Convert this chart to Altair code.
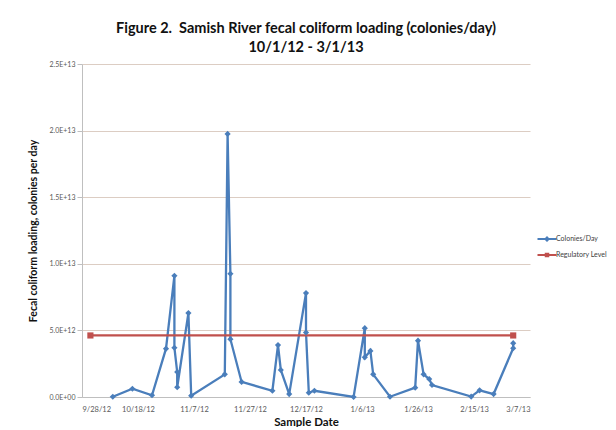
import altair as alt
import pandas as pd

# Colonies/Day series (values in units of 1E12 colonies/day)
sample_dates = ["2012-10-09", "2012-10-16", "2012-10-23", "2012-10-28", "2012-10-31",
                "2012-10-31", "2012-11-01", "2012-11-01", "2012-11-05", "2012-11-06",
                "2012-11-18", "2012-11-19", "2012-11-20", "2012-11-20", "2012-11-24",
                "2012-12-05", "2012-12-07", "2012-12-08", "2012-12-11", "2012-12-17",
                "2012-12-17", "2012-12-18", "2012-12-20", "2013-01-03", "2013-01-07",
                "2013-01-07", "2013-01-09", "2013-01-10", "2013-01-16", "2013-01-25",
                "2013-01-26", "2013-01-28", "2013-01-30", "2013-01-31", "2013-02-14",
                "2013-02-17", "2013-02-22", "2013-03-01", "2013-03-01"]
colonies_e12 = [0.02, 0.62, 0.13, 3.63, 9.1, 3.7, 1.88, 0.73, 6.3, 0.1,
                1.7, 19.75, 9.25, 4.34, 1.13, 0.47, 3.9, 2.03, 0.22, 7.8,
                4.84, 0.32, 0.47, 0.0, 5.17, 2.98, 3.46, 1.7, 0.02, 0.7,
                4.23, 1.7, 1.35, 0.9, 0.03, 0.5, 0.22, 3.66, 4.04]

# Regulatory level series
reg_dates = ["2012-10-01", "2013-03-01"]
reg_e12 = [4.62, 4.62]

series_names = ["Colonies/Day", "Regulatory Level"]
series_colors = ["#4A7EBB", "#C0504D"]
series_markers = ["diamond", "square"]

# Axis ticks
x_ticks = [(2012, 9, 28), (2012, 10, 18), (2012, 11, 7), (2012, 11, 27), (2012, 12, 17),
           (2013, 1, 6), (2013, 1, 26), (2013, 2, 15), (2013, 3, 7)]
y_ticks_e12 = [0, 5, 10, 15, 20, 25]

rows = []
for i, (d, v) in enumerate(zip(sample_dates, colonies_e12)):
    rows.append({"date": d, "value": v * 1e12, "series": series_names[0], "order": i})
for i, (d, v) in enumerate(zip(reg_dates, reg_e12)):
    rows.append({"date": d, "value": v * 1e12, "series": series_names[1], "order": i})
df = pd.DataFrame(rows)

font = "Lato"

# legend symbols: a short line with the series marker on it (unit coordinates)
legend_symbols = [
    "M-1.9,-0.2H1.9V0.2H-1.9Z M0,-0.6L0.6,0L0,0.6L-0.6,0Z",
    "M-1.9,-0.2H1.9V0.2H-1.9Z M-0.45,-0.45H0.45V0.45H-0.45Z",
]

x_enc = alt.X(
    "date:T",
    scale=alt.Scale(type="utc",
                    domain=[alt.DateTime(year=2012, month=9, date=28, utc=True),
                            alt.DateTime(year=2013, month=3, date=7, utc=True)]),
    axis=alt.Axis(
        values=[alt.DateTime(year=y, month=m, date=d, utc=True) for (y, m, d) in x_ticks],
        labelExpr="utcFormat(datum.value, '%-m/%-d/%y')",
        title="Sample Date",
        grid=False,
        labelFontSize=7.5, labelColor="#595959", labelPadding=8,
        tickSize=0, domainColor="#bfbfbf",
        titleFontSize=11.5, titleFontWeight="bold", titleColor="#111111",
        titlePadding=4, titleX=224,
    ),
)
y_enc = alt.Y(
    "value:Q",
    scale=alt.Scale(domain=[0, 2.5e13], nice=False),
    axis=alt.Axis(
        values=[v * 1e12 for v in y_ticks_e12],
        labelExpr="datum.value == 0 ? '0.0E+00' : upper(format(datum.value, '.1e'))",
        title="Fecal coliform loading, colonies per day",
        grid=True, gridColor="#dccdc3", gridWidth=1,
        labelFontSize=7, labelColor="#595959", labelPadding=2,
        tickSize=5, tickColor="#bfbfbf", domainColor="#bfbfbf",
        titleFontSize=10.5, titleFontWeight="bold", titleColor="#111111",
        titlePadding=11,
    ),
)
legend = alt.Legend(
    title=None, orient="none", legendX=460, legendY=170,
    labelFontSize=7, labelColor="#404040", labelFont=font,
    symbolSize=100, symbolStrokeWidth=0, symbolOpacity=1,
    rowPadding=8, labelOffset=4,
)
color_enc = alt.Color(
    "series:N",
    scale=alt.Scale(domain=series_names, range=series_colors),
    legend=legend,
)
shape_enc = alt.Shape(
    "series:N",
    scale=alt.Scale(domain=series_names, range=legend_symbols),
    legend=legend,
)

base = alt.Chart(df)
lines = base.mark_line(strokeWidth=2.3).encode(
    x=x_enc, y=y_enc, color=color_enc, order="order:Q", detail="series:N")
marker_layers = [
    base.transform_filter(alt.datum.series == name)
    .mark_point(filled=True, size=38, opacity=1, shape=marker)
    .encode(x=x_enc, y=y_enc, color=color_enc)
    for name, marker in zip(series_names, series_markers)
]
legend_layer = base.mark_point(filled=True, size=100, opacity=0).encode(
    x=x_enc, y=y_enc, color=color_enc, shape=shape_enc)

chart = alt.layer(lines, *marker_layers, legend_layer).properties(
    width=448, height=333,
    autosize=alt.AutoSizeParams(type="none"),
    padding={"left": 74, "top": 56, "right": 78, "bottom": 30},
    background="white",
    title=alt.TitleParams(
        text=["Figure 2.\u00a0\u00a0Samish River fecal coliform loading (colonies/day)",
              "10/1/12 - 3/1/13"],
        anchor="middle", fontSize=14.5, font=font, fontWeight="bold",
        color="#111111", offset=5, lineHeight=19,
    ),
).configure_axis(
    labelFont=font, titleFont=font,
).configure_view(stroke=None)

chart.save("out.html", embed_options={"renderer": "svg", "actions": False})
